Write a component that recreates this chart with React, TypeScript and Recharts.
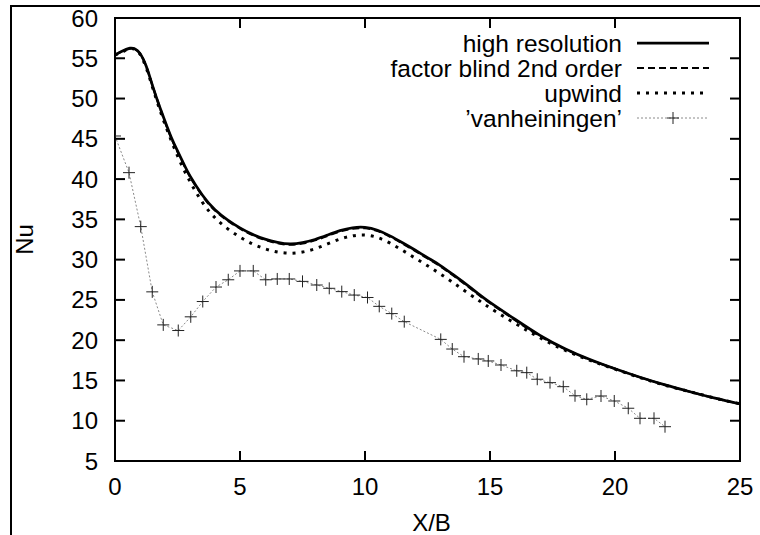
import React from 'react';
import { LineChart, Line, XAxis, YAxis, Legend } from 'recharts';

const FONT = '"Liberation Sans", Arial, Helvetica, sans-serif';

const X_TICKS = [0, 5, 10, 15, 20, 25];
const Y_TICKS = [5, 10, 15, 20, 25, 30, 35, 40, 45, 50, 55, 60];

const SERIES_NAMES = ['high resolution', 'factor blind 2nd order', 'upwind', '\u2019vanheiningen\u2019'];

const highResX = [0, 0.3, 0.6, 0.8, 1.0, 1.25, 1.5, 1.75, 2.0, 2.25, 2.5, 2.75, 3.0, 3.5, 4.0, 4.5, 5.0, 5.5, 6.0, 6.5, 7.0, 7.5, 8.0, 8.5, 9.0, 9.5, 10.0, 10.5, 11.0, 11.5, 12.0, 12.5, 13.0, 13.5, 14.0, 14.5, 15.0, 16.0, 17.0, 18.0, 19.0, 20.0, 21.0, 22.0, 23.0, 24.0, 25.0];
const highResNu = [55.4, 55.9, 56.25, 56.15, 55.6, 54.0, 51.6, 49.3, 47.2, 45.2, 43.5, 41.9, 40.4, 38.0, 36.2, 34.95, 33.95, 33.15, 32.55, 32.15, 31.95, 32.1, 32.5, 33.05, 33.6, 33.95, 34.0, 33.65, 32.95, 32.1, 31.2, 30.25, 29.3, 28.2, 27.05, 25.85, 24.7, 22.6, 20.6, 18.95, 17.6, 16.45, 15.4, 14.45, 13.6, 12.8, 12.1];

const factorBlindX = [0, 0.3, 0.6, 0.8, 1.0, 1.25, 1.5, 1.75, 2.0, 2.25, 2.5, 2.75, 3.0, 3.5, 4.0, 4.5, 5.0, 5.5, 6.0, 6.5, 7.0, 7.5, 8.0, 8.5, 9.0, 9.5, 10.0, 10.5, 11.0, 11.5, 12.0, 12.5, 13.0, 13.5, 14.0, 14.5, 15.0, 16.0, 17.0, 18.0, 19.0, 20.0, 21.0, 22.0, 23.0, 24.0, 25.0];
const factorBlindNu = [55.4, 55.9, 56.2, 56.1, 55.6, 54.0, 51.6, 49.3, 47.1, 45.1, 43.4, 41.8, 40.3, 37.9, 36.1, 34.85, 33.85, 33.05, 32.45, 32.05, 31.85, 32.0, 32.4, 32.95, 33.5, 33.85, 33.9, 33.55, 32.85, 32.0, 31.1, 30.15, 29.2, 28.1, 26.95, 25.75, 24.6, 22.5, 20.5, 18.9, 17.55, 16.45, 15.4, 14.45, 13.6, 12.8, 12.1];

const upwindX = [0, 0.3, 0.6, 0.8, 1.0, 1.25, 1.5, 1.75, 2.0, 2.5, 3.0, 3.5, 4.0, 4.5, 5.0, 5.5, 6.0, 6.5, 7.0, 7.5, 8.0, 8.5, 9.0, 9.5, 10.0, 10.5, 11.0, 11.5, 12.0, 12.5, 13.0, 13.5, 14.0, 14.5, 15.0, 16.0, 17.0, 18.0, 19.0, 20.0, 21.0, 22.0, 23.0, 24.0, 25.0];
const upwindNu = [55.4, 55.8, 56.2, 56.1, 55.5, 53.8, 51.4, 49.0, 46.8, 42.9, 39.7, 37.1, 35.2, 33.85, 32.8, 31.95, 31.35, 30.95, 30.8, 30.95, 31.35, 31.95, 32.55, 32.95, 33.05, 32.75, 32.05, 31.15, 30.2, 29.25, 28.25, 27.2, 26.1, 25.05, 24.0, 22.1, 20.3, 18.75, 17.5, 16.4, 15.35, 14.4, 13.6, 12.8, 12.1];

const vanheiningenX = [0, 0.56, 1.03, 1.49, 1.93, 2.53, 3.03, 3.51, 4.04, 4.53, 5.0, 5.53, 6.03, 6.49, 6.97, 7.5, 8.07, 8.57, 9.07, 9.57, 10.1, 10.57, 11.07, 11.57, 13.03, 13.49, 13.96, 14.53, 14.93, 15.44, 16.07, 16.47, 16.89, 17.4, 17.93, 18.4, 18.87, 19.44, 19.97, 20.53, 21.0, 21.56, 22.0];
const vanheiningenNu = [45.35, 40.8, 34.1, 26.0, 21.9, 21.2, 22.9, 24.8, 26.6, 27.5, 28.6, 28.6, 27.5, 27.6, 27.6, 27.3, 26.85, 26.44, 26.03, 25.6, 25.3, 24.2, 23.3, 22.3, 20.1, 18.9, 17.95, 17.67, 17.42, 16.92, 16.2, 15.97, 15.15, 14.73, 14.23, 13.1, 12.66, 13.07, 12.45, 11.55, 10.3, 10.3, 9.26];

const zip = (xs: number[], ys: number[]) => xs.map((x, i) => ({ x, nu: ys[i] }));

const highResData = zip(highResX, highResNu);
const factorBlindData = zip(factorBlindX, factorBlindNu);
const upwindData = zip(upwindX, upwindNu);
const vanheiningenData = zip(vanheiningenX, vanheiningenNu);

const STYLES = [
  { stroke: '#000', width: 2.75, dash: undefined as string | undefined, plus: false },
  { stroke: '#000', width: 2.2, dash: '7 4', plus: false },
  { stroke: '#000', width: 3, dash: '3 6', plus: false },
  { stroke: '#8a8a8a', width: 1, dash: '2 2', plus: true },
];

const PlusMark = ({ cx, cy }: any) => {
  if (cx == null || cy == null) return <g />;
  return (
    <path
      d={`M${cx - 6},${cy}H${cx + 6}M${cx},${cy - 6}V${cy + 6}`}
      stroke="#222"
      strokeWidth={1}
      fill="none"
    />
  );
};

const BottomTick = (p: any) => (
  <g>
    <line x1={p.x} x2={p.x} y1={p.y} y2={p.y - 10} stroke="#000" strokeWidth={2} />
    <text x={p.x} y={p.y + 34} textAnchor="middle" fontSize={24} fontFamily={FONT} fill="#000">
      {p.payload.value}
    </text>
  </g>
);
const TopTick = (p: any) => (
  <line x1={p.x} x2={p.x} y1={p.y} y2={p.y + 10} stroke="#000" strokeWidth={2} />
);
const LeftTick = (p: any) => (
  <g>
    <line x1={p.x} x2={p.x + 10} y1={p.y} y2={p.y} stroke="#000" strokeWidth={2} />
    <text x={p.x - 17} y={p.y + 8.5} textAnchor="end" fontSize={24} fontFamily={FONT} fill="#000">
      {p.payload.value}
    </text>
  </g>
);
const RightTick = (p: any) => (
  <line x1={p.x} x2={p.x - 10} y1={p.y} y2={p.y} stroke="#000" strokeWidth={2} />
);

const LegendContent = () => (
  <svg width={760} height={140} style={{ display: 'block' }}>
    {SERIES_NAMES.map((name, i) => {
      const y = 43 + i * 25;
      const s = STYLES[i];
      return (
        <g key={name}>
          <text x={622} y={y + 8.5} textAnchor="end" fontSize={24.5} fontFamily={FONT} fill="#000">
            {name}
          </text>
          <line x1={637} x2={709} y1={y} y2={y} stroke={s.stroke} strokeWidth={s.width} strokeDasharray={s.dash} />
          {s.plus ? <PlusMark cx={673} cy={y} /> : null}
        </g>
      );
    })}
  </svg>
);

const axisLine = { stroke: '#000', strokeWidth: 2, strokeLinecap: 'square' as const };

export default function App() {
  return (
    <div style={{ position: 'absolute', left: 0, top: 0, width: 760, height: 535, overflow: 'hidden', background: '#fff' }}>
      <div
        style={{
          position: 'absolute',
          left: 10,
          top: 5,
          width: 800,
          height: 600,
          borderLeft: '2px solid #000',
          borderTop: '2px solid #000',
        }}
      />
      <div style={{ position: 'absolute', left: 0, top: 0 }}>
        <LineChart width={760} height={535} margin={{ top: 17, right: 19, bottom: 44, left: 55 }}>
          <XAxis
            dataKey="x"
            type="number"
            domain={[0, 25]}
            ticks={X_TICKS}
            interval={0}
            height={30}
            tickSize={0}
            tickMargin={0}
            tickLine={false}
            tick={BottomTick}
            axisLine={axisLine}
            allowDataOverflow
            label={{
              content: (props: any) => {
                const vb = props.viewBox || { x: 115, y: 461, width: 625 };
                return (
                  <text x={vb.x + vb.width / 2 + 4} y={vb.y + 70} textAnchor="middle" fontSize={24} fontFamily={FONT} fill="#000">
                    X/B
                  </text>
                );
              },
            }}
          />
          <XAxis
            xAxisId="top"
            orientation="top"
            dataKey="x"
            type="number"
            domain={[0, 25]}
            ticks={X_TICKS}
            interval={0}
            height={1}
            tickSize={0}
            tickMargin={0}
            tickLine={false}
            tick={TopTick}
            axisLine={axisLine}
            allowDataOverflow
          />
          <YAxis
            type="number"
            domain={[5, 60]}
            ticks={Y_TICKS}
            interval={0}
            width={60}
            tickSize={0}
            tickMargin={0}
            tickLine={false}
            tick={LeftTick}
            axisLine={axisLine}
            allowDataOverflow
            label={{
              content: (props: any) => {
                const vb = props.viewBox || { x: 55, y: 18, width: 60, height: 443 };
                const cx = vb.x + vb.width - 82;
                const cy = vb.y + vb.height / 2;
                return (
                  <text x={cx} y={cy} transform={`rotate(-90 ${cx} ${cy})`} textAnchor="middle" fontSize={24} fontFamily={FONT} fill="#000">
                    Nu
                  </text>
                );
              },
            }}
          />
          <YAxis
            yAxisId="right"
            orientation="right"
            type="number"
            domain={[5, 60]}
            ticks={Y_TICKS}
            interval={0}
            width={1}
            tickSize={0}
            tickMargin={0}
            tickLine={false}
            tick={RightTick}
            axisLine={axisLine}
            allowDataOverflow
          />
          <Legend
            layout="vertical"
            align="center"
            verticalAlign="middle"
            content={LegendContent}
            wrapperStyle={{ left: 0, top: 0, width: 760, height: 140, pointerEvents: 'none' }}
          />
          <Line
            data={vanheiningenData}
            dataKey="nu"
            name={SERIES_NAMES[3]}
            type="linear"
            stroke={STYLES[3].stroke}
            strokeWidth={STYLES[3].width}
            strokeDasharray={STYLES[3].dash}
            dot={(p: any) => <PlusMark key={`p${p.index}`} cx={p.cx} cy={p.cy} />}
            activeDot={false}
            isAnimationActive={false}
          />
          <Line
            data={upwindData}
            dataKey="nu"
            name={SERIES_NAMES[2]}
            type="natural"
            stroke={STYLES[2].stroke}
            strokeWidth={STYLES[2].width}
            strokeDasharray={STYLES[2].dash}
            dot={false}
            activeDot={false}
            isAnimationActive={false}
          />
          <Line
            data={factorBlindData}
            dataKey="nu"
            name={SERIES_NAMES[1]}
            type="natural"
            stroke={STYLES[1].stroke}
            strokeWidth={STYLES[1].width}
            strokeDasharray={STYLES[1].dash}
            dot={false}
            activeDot={false}
            isAnimationActive={false}
          />
          <Line
            data={highResData}
            dataKey="nu"
            name={SERIES_NAMES[0]}
            type="natural"
            stroke={STYLES[0].stroke}
            strokeWidth={STYLES[0].width}
            dot={false}
            activeDot={false}
            isAnimationActive={false}
          />
        </LineChart>
      </div>
    </div>
  );
}
